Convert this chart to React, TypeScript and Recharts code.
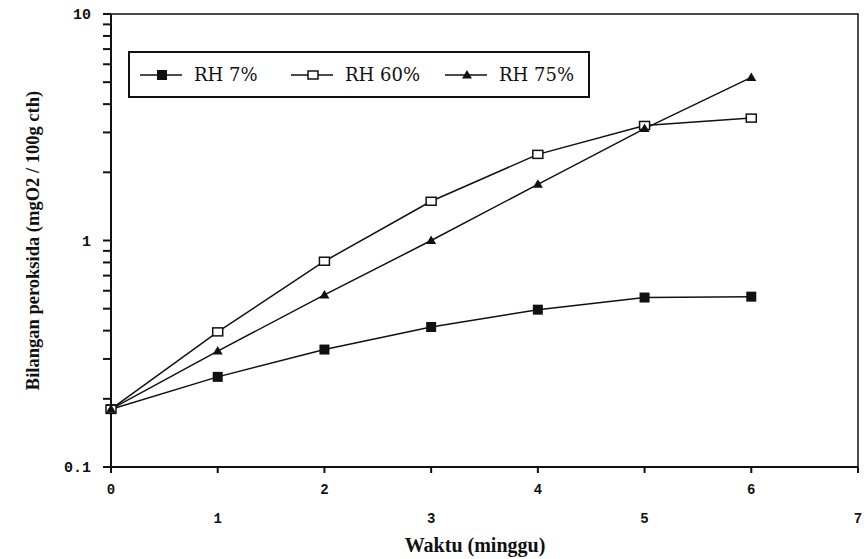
import { ComposedChart, Line, Scatter, XAxis, YAxis, ReferenceArea, Legend } from 'recharts'

// Peroxide value over storage time at three relative humidities
const WEEKS = [0, 1, 2, 3, 4, 5, 6]
const RH7 = [0.18, 0.25, 0.33, 0.415, 0.495, 0.56, 0.565]
const RH60 = [0.18, 0.395, 0.81, 1.49, 2.4, 3.22, 3.47]
const RH75 = [0.18, 0.325, 0.575, 1.0, 1.77, 3.12, 5.25]

const X_TICKS = [0, 1, 2, 3, 4, 5, 6, 7]
const Y_TICKS = [0.1, 1, 10]
const Y_MINOR = [0.2, 0.3, 0.4, 0.5, 0.6, 0.7, 0.8, 0.9, 2, 3, 4, 5, 6, 7, 8, 9]

const SERIES = [
  { key: 'rh7', name: 'RH 7%', shape: 'filled', left: 8 },
  { key: 'rh60', name: 'RH 60%', shape: 'open', left: 159 },
  { key: 'rh75', name: 'RH 75%', shape: 'triangle', left: 313 },
]

const data = WEEKS.map((w, i) => ({ week: w, rh7: RH7[i], rh60: RH60[i], rh75: RH75[i] }))
// minor log ticks sit on the y axis (week 0)
const minorTicks = Y_MINOR.map((v) => ({ week: 0, v }))

const INK = '#111'
const MONO = '"Liberation Mono", "DejaVu Sans Mono", monospace'
const SERIF = '"Liberation Serif", "DejaVu Serif", serif'

function Marker({ shape, cx, cy }: { shape: string; cx: number; cy: number }) {
  if (shape === 'filled') {
    return <rect x={cx - 5} y={cy - 5} width={10} height={10} fill={INK} />
  }
  if (shape === 'open') {
    return <rect x={cx - 5} y={cy - 4} width={10} height={8} fill="#fff" stroke={INK} strokeWidth={1.5} />
  }
  return <polygon points={`${cx},${cy - 5} ${cx + 5},${cy + 3.5} ${cx - 5},${cy + 3.5}`} fill={INK} />
}

function makeDot(shape: string) {
  return (p: any) => <Marker key={`${shape}-${p.index}`} shape={shape} cx={p.cx} cy={p.cy} />
}

function MinorTick({ cx, cy }: any) {
  return <line x1={cx - 8} y1={cy} x2={cx} y2={cy} stroke={INK} strokeWidth={2} />
}

function XTick({ x, y, payload }: any) {
  const odd = payload.value % 2 === 1
  return (
    <g>
      <line x1={x} y1={y - 7} x2={x} y2={y - 1} stroke={INK} strokeWidth={2} />
      <text x={x} y={y + (odd ? 49 : 20)} textAnchor="middle" fontFamily={MONO} fontWeight="bold" fontSize={14} fill={INK}>
        {payload.value}
      </text>
    </g>
  )
}

function LegendBox() {
  return (
    <div style={{ position: 'relative', width: 462, height: 47, border: `2px solid ${INK}`, boxSizing: 'border-box', background: '#fff' }}>
      {SERIES.map((s) => (
        <div key={s.key} style={{ position: 'absolute', left: s.left, top: 0, height: 43, display: 'flex', alignItems: 'center' }}>
          <svg width={46} height={14} style={{ display: 'block' }}>
            <line x1={2} y1={7} x2={44} y2={7} stroke={INK} strokeWidth={1.5} />
            <Marker shape={s.shape} cx={24} cy={7} />
          </svg>
          <span style={{ fontFamily: '"DejaVu Serif", serif', fontSize: 18, color: INK, marginLeft: 10, whiteSpace: 'nowrap' }}>{s.name}</span>
        </div>
      ))}
    </div>
  )
}

function YTitle({ viewBox }: any) {
  const cy = (viewBox?.y ?? 14) + (viewBox?.height ?? 453) / 2
  return (
    <text x={39} y={cy} transform={`rotate(-90, 39, ${cy})`} textAnchor="middle" fontFamily={SERIF} fontWeight="bold" fontSize={18.5} fill={INK}>
      Bilangan peroksida (mgO2 / 100g cth)
    </text>
  )
}

function XTitle() {
  return (
    <text x={475} y={552} textAnchor="middle" fontFamily={SERIF} fontWeight="bold" fontSize={20} fill={INK}>
      Waktu (minggu)
    </text>
  )
}

export default function App() {
  return (
    <div style={{ position: 'absolute', left: 0, top: 0, width: 864, height: 559, background: '#fff' }}>
      <ComposedChart width={864} height={559} data={data} margin={{ top: 14, right: 6, left: 0, bottom: 0 }}>
        <ReferenceArea x1={0} x2={7} y1={0.1} y2={10} fill="none" stroke={INK} strokeWidth={1.5} ifOverflow="visible" />
        <XAxis
          type="number"
          dataKey="week"
          domain={[0, 7]}
          ticks={X_TICKS}
          interval={0}
          height={92}
          axisLine={{ stroke: INK, strokeWidth: 2 }}
          tickLine={false}
          tickSize={5}
          tick={<XTick />}
          label={<XTitle />}
        />
        <YAxis
          type="number"
          scale="log"
          domain={[0.1, 10]}
          ticks={Y_TICKS}
          interval={0}
          width={111}
          axisLine={{ stroke: INK, strokeWidth: 2 }}
          tickLine={{ stroke: INK, strokeWidth: 2 }}
          tickSize={8}
          tickMargin={12}
          tick={{ fontFamily: MONO, fontWeight: 'bold', fontSize: 15, fill: INK }}
          label={<YTitle />}
        />
        <Legend
          layout="vertical"
          verticalAlign="middle"
          align="center"
          content={<LegendBox />}
          wrapperStyle={{ left: 128, top: 51, width: 462, height: 47 }}
        />
        <Scatter data={minorTicks} dataKey="v" shape={<MinorTick />} legendType="none" isAnimationActive={false} />
        {SERIES.map((s) => (
          <Line
            key={s.key}
            type="linear"
            dataKey={s.key}
            name={s.name}
            stroke={INK}
            strokeWidth={1.5}
            dot={makeDot(s.shape)}
            activeDot={false}
            isAnimationActive={false}
          />
        ))}
      </ComposedChart>
    </div>
  )
}
